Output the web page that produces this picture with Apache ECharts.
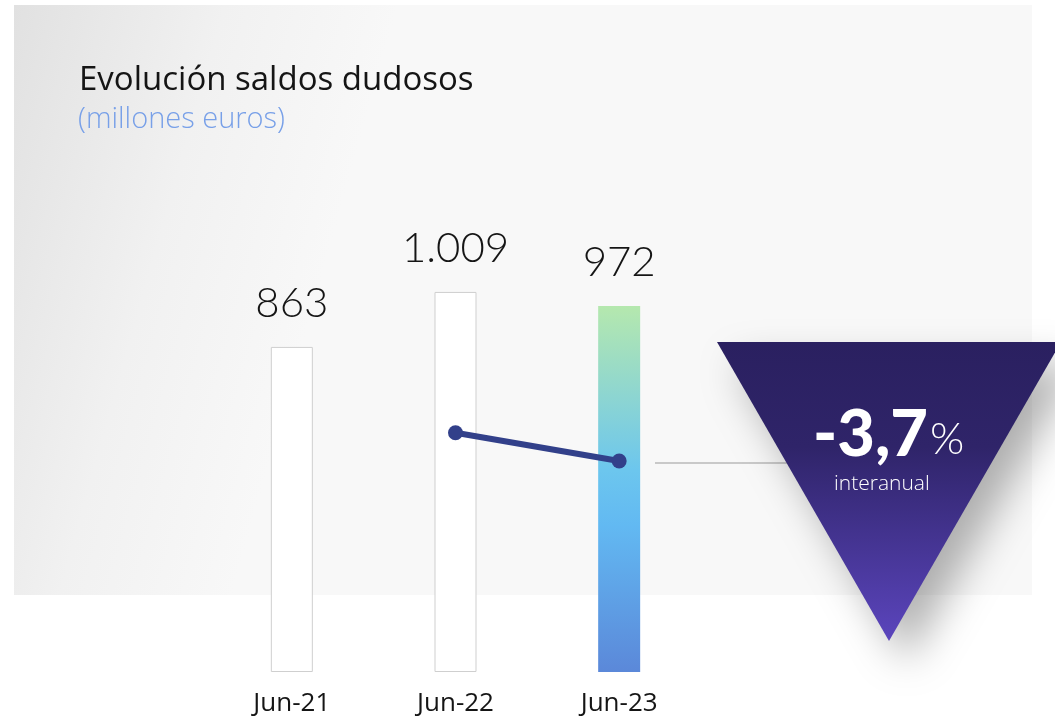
<!DOCTYPE html>
<html>
<head>
<meta charset="utf-8">
<script src="https://cdn.jsdelivr.net/npm/echarts@6/dist/echarts.min.js"></script>
<style>
html,body{margin:0;padding:0;background:#fff;}
#chart{width:1055px;height:719px;}
</style>
</head>
<body>
<div id="chart"></div>
<script>
// datos
var categories = ['Jun-21', 'Jun-22', 'Jun-23'];
var saldos = [863, 1009, 972];
// linea decorativa entre Jun-22 y Jun-23
var tendencia = [null, 635, 560];
var variacion = '-3,7';

var chart = echarts.init(document.getElementById('chart'));

function fmt(v){
  return String(v).replace(/\B(?=(\d{3})+(?!\d))/g, '.');
}

var barData = saldos.map(function(v, i){
  if (i === saldos.length - 1) {
    return {
      value: v,
      itemStyle: {
        borderWidth: 0,
        color: new echarts.graphic.LinearGradient(0, 0, 0, 1, [
          {offset: 0, color: '#b5e8ae'},
          {offset: 0.45, color: '#6cc6ee'},
          {offset: 0.6, color: '#62b9f2'},
          {offset: 1, color: '#5b88d9'}
        ])
      }
    };
  }
  return v;
});

chart.setOption({
  animation: false,
  graphic: [
    {
      type: 'rect', z: -10, silent: true,
      shape: {x: 14, y: 5, width: 1018, height: 590},
      style: {
        fill: new echarts.graphic.LinearGradient(0, 0, 0.35, 0.17, [
          {offset: 0, color: '#e1e1e1'},
          {offset: 0.55, color: '#f1f1f1'},
          {offset: 1, color: '#f8f8f8'}
        ])
      }
    },
    {
      type: 'text', left: 79, top: 64,
      style: {text: 'Evolución saldos dudosos', fill: '#151515', font: '400 33px "Open Sans", Lato, sans-serif'}
    },
    {
      type: 'text', left: 78, top: 105,
      style: {text: '(millones euros)', fill: '#78a0e8', font: '300 29px "Open Sans", Lato, sans-serif'}
    },
    {
      type: 'line', z: 5, silent: true,
      shape: {x1: 655, y1: 463, x2: 790, y2: 463},
      style: {stroke: '#9a9a9a', lineWidth: 1}
    },
    {
      type: 'polygon', z: 10, silent: true,
      shape: {points: [[717, 342], [1061, 342], [889, 641]]},
      style: {
        fill: new echarts.graphic.LinearGradient(0, 0, 0, 1, [
          {offset: 0, color: '#2a2060'},
          {offset: 0.35, color: '#2f2469'},
          {offset: 1, color: '#5b45bd'}
        ]),
        shadowBlur: 40, shadowColor: 'rgba(0,0,0,0.3)', shadowOffsetX: 18, shadowOffsetY: 22
      }
    },
    {
      type: 'text', z: 11, left: 813, top: 403,
      style: {
        text: '{a|' + variacion + '}{b|%}',
        rich: {
          a: {fill: '#fff', font: '900 65px Lato, "Open Sans", sans-serif', letterSpacing: -1},
          b: {fill: '#fff', font: '300 44px Lato, "Open Sans", sans-serif', padding: [8, 0, 0, 2]}
        }
      }
    },
    {
      type: 'text', z: 11, left: 834, top: 474,
      style: {text: 'interanual', fill: '#fff', font: '300 21px "Open Sans", Lato, sans-serif'}
    }
  ],
  grid: {left: 210, right: 354, top: 220, bottom: 47},
  xAxis: {
    type: 'category',
    data: categories,
    axisLine: {show: false},
    axisTick: {show: false},
    axisLabel: {
      margin: 19,
      color: '#151515',
      fontSize: 26,
      fontWeight: 400,
      letterSpacing: 1.5,
      fontFamily: '"Open Sans", Lato, sans-serif'
    }
  },
  yAxis: {
    type: 'value',
    min: 0, max: 1200,
    show: false,
    splitLine: {show: false}
  },
  series: [
    {
      type: 'bar',
      data: barData,
      barWidth: 42,
      itemStyle: {color: '#ffffff', borderColor: '#cfcfcf', borderWidth: 1},
      label: {
        show: true,
        position: 'top',
        distance: 22,
        color: '#151515',
        fontSize: 42,
        fontWeight: 300,
        fontFamily: 'Lato, "Open Sans", sans-serif',
        formatter: function(p){ return fmt(p.value); }
      }
    },
    {
      type: 'line',
      data: tendencia,
      z: 4,
      symbol: 'circle',
      symbolSize: 15,
      lineStyle: {color: '#32408a', width: 6},
      itemStyle: {color: '#32408a'}
    }
  ]
});
</script>
</body>
</html>
